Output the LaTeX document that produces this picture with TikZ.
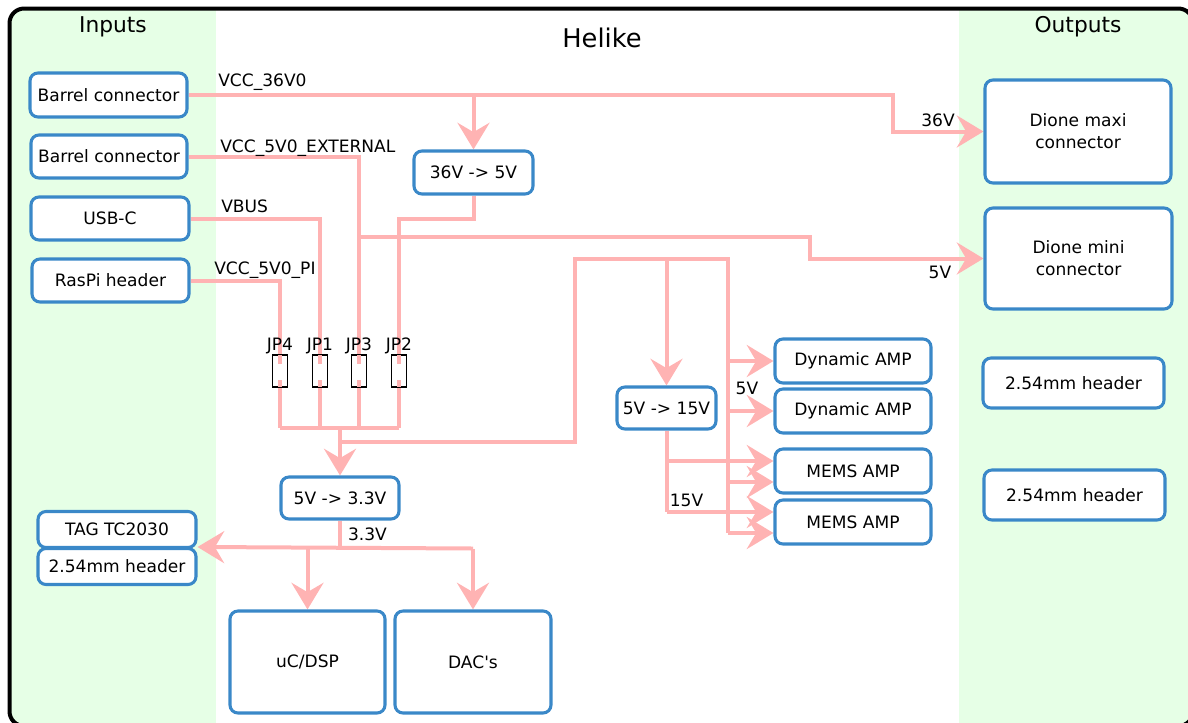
\documentclass[tikz,border=0pt]{standalone}
\usepackage{fontspec}
\setmainfont{DejaVu Sans}
\usetikzlibrary{arrows.meta,calc}
\definecolor{boxblue}{RGB}{58,136,200}
\definecolor{wirepink}{RGB}{255,179,179}
\definecolor{panelgreen}{RGB}{230,255,230}
\pgfdeclarelayer{back}
\pgfdeclarelayer{wires}
\pgfsetlayers{back,wires,main}

\begin{document}
\begin{tikzpicture}[x=0.75pt,y=-0.75pt,
  block/.style={draw=boxblue, line width=2.3pt, rounded corners=6pt, fill=white,
    align=center, inner sep=0pt, font=\fontsize{12.8}{16.5}\selectfont},
  sz/.style 2 args={minimum width=#1*0.75pt, minimum height=#2*0.75pt},
  wire/.style={draw=wirepink, line width=3pt},
  feed/.style={-{Stealth[length=20pt,width=24pt,inset=7pt]}},
  lbl/.style={font=\fontsize{12.8}{15}\selectfont, inner sep=0pt},
  jumper/.style={draw=black, line width=1.1pt, fill=white, inner sep=0pt,
    minimum width=15*0.75pt, minimum height=32*0.75pt},
  heading/.style={font=\fontsize{16.3}{18}\selectfont, inner sep=0pt, anchor=base}
]
\useasboundingbox (0,0) rectangle (1188,722);

% frame and side panels (the frame runs past the right and bottom edges)
\begin{pgfonlayer}{back}
  \begin{scope}[overlay]
    \clip[rounded corners=11pt] (9.5,8.5) rectangle (1193,726);
    \fill[panelgreen] (9,8) rectangle (216,727);
    \fill[panelgreen] (959,8) rectangle (1194,727);
  \end{scope}
  \draw[overlay, line width=3pt, rounded corners=11pt] (9.5,8.5) rectangle (1193,726);
\end{pgfonlayer}

% headings
\node[heading] (tInputs) at (113,32.5) {Inputs};
\node[heading] (tOutputs) at (1078,32) {Outputs};
\node[font=\fontsize{19.3}{22}\selectfont, inner sep=0pt, anchor=base] (tTitle) at (602,47) {Helike};

% inputs
\node[block, sz={157}{44}] (bc1) at (108.5,95) {Barrel connector};
\node[block, sz={156}{43}] (bc2) at (109,156.5) {Barrel connector};
\node[block, sz={158}{43}] (usbc) at (110,218.5) {USB-C};
\node[block, sz={157}{43}] (raspi) at (110.5,280.5) {RasPi header};
\node[block, sz={158}{36}] (tag) at (117,529.5) {TAG TC2030};
\node[block, sz={158}{36}] (hdrL) at (117,566.5) {2.54mm header};

% converters
\node[block, sz={119}{43}] (conv36) at (473.5,172.5) {36V -> 5V};
\node[block, sz={118}{42}] (conv33) at (340,498) {5V -> 3.3V};
\node[block, sz={99}{42}] (conv15) at (666.5,408) {5V -> 15V};

% loads
\node[block, sz={155}{102}] (ucdsp) at (307.5,662) {uC/DSP};
\node[block, sz={156}{102}] (dacs) at (473,662) {DAC\textquotesingle s};
\node[block, sz={156}{44}] (dyn1) at (853,361) {Dynamic AMP};
\node[block, sz={156}{44}] (dyn2) at (853,411) {Dynamic AMP};
\node[block, sz={156}{44}] (mems1) at (853,471) {MEMS AMP};
\node[block, sz={156}{44}] (mems2) at (853,522) {MEMS AMP};

% outputs
\node[block, sz={186}{103}] (maxi) at (1078,131.5) {Dione maxi\\connector};
\node[block, sz={187}{101}] (mini) at (1078.5,258.5) {Dione mini\\connector};
\node[block, sz={181}{50}] (hdrR1) at (1073.5,383) {2.54mm header};
\node[block, sz={181}{50}] (hdrR2) at (1074.5,495) {2.54mm header};

% jumpers
\foreach \n/\x in {jp4/280, jp1/320, jp3/359, jp2/399} {
  \node[jumper] (\n) at (\x,371) {};
  \node[lbl, anchor=base] (\n lbl) at (\x,350.5) {\MakeUppercase{\n}};
  \draw[wire] ([yshift=-0.9pt]\n.north) -- ++(0,9);
  \draw[wire] ([yshift=0.9pt]\n.south) -- ++(0,-7);
}

% junction points
\coordinate (j36) at (473.5,95);
\coordinate (k36) at (893,95);
\coordinate (bar) at (280,428);
\coordinate (jmid) at (340,428);
\coordinate (jtap) at (340,442);
\coordinate (busA) at (575,442);
\coordinate (busB) at (575,259);
\coordinate (bus5) at (728,259);
\coordinate (bus5end) at (728,533);
\coordinate (j5ext) at (359,237);
\coordinate (k5ext) at (810,237);
\coordinate (b15) at (666.5,512);
\coordinate (rail33) at (340,548.5);
\coordinate (rail33R) at (473,548.5);
\coordinate (m1v15) at ($(mems1.west)+(0,-10)$);
\coordinate (m1v5) at ($(mems1.west)+(0,11)$);
\coordinate (m2v15) at ($(mems2.west)+(0,-10)$);
\coordinate (m2v5) at ($(mems2.west)+(0,11)$);

% power rails
\begin{pgfonlayer}{wires}
  \draw[wire, feed] (bc1.east) -- (k36) |- (maxi.west);
  \draw[wire, feed] (j36) -- (conv36.north);
  \draw[wire] (bc2.east) -| (jp3 |- bar);
  \draw[wire] (usbc.east) -| (jp1 |- bar);
  \draw[wire] (raspi.east) -| (jp4 |- bar);
  \draw[wire] (conv36.south) -- ++(0,23) -| (jp2 |- bar);
  \draw[wire] (jp4 |- bar) -- (jp2 |- bar);
  \draw[wire, feed] (jmid) -- (conv33.north);
  \draw[wire, feed] (j5ext) -- (k5ext) |- (mini.west);
  \draw[wire] (jmid) -- (jtap) -- (busA) -- (busB) -- (bus5) -- (bus5end);
  \draw[wire, feed] (conv15.north |- bus5) -- (conv15.north);
  \draw[wire, feed] (bus5 |- dyn1.west) -- (dyn1.west);
  \draw[wire, feed] (bus5 |- dyn2.west) -- (dyn2.west);
  \draw[wire, feed] (bus5 |- m1v5) -- (m1v5);
  \draw[wire, feed] (bus5 |- m2v5) -- (m2v5);
  \draw[wire] (conv15.south) -- (b15);
  \draw[wire, feed] (conv15.south |- m1v15) -- (m1v15);
  \draw[wire, feed] (b15) -- (m2v15);
  \draw[wire] (conv33.south) -- (rail33);
  \draw[wire, feed] (rail33R) -- (hdrL.north east);
  \draw[wire, feed] (ucdsp.north |- rail33) -- (ucdsp.north);
  \draw[wire, feed] (rail33R) -- (dacs.north);
\end{pgfonlayer}

% rail labels
\node[lbl, anchor=base west] (l36) at (218,86) {VCC\_36V0};
\node[lbl, anchor=base west] (l5e) at (220,152) {VCC\_5V0\_EXTERNAL};
\node[lbl, anchor=base west] (lvb) at (221,212.7) {VBUS};
\node[lbl, anchor=base west] (lpi) at (214,274) {VCC\_5V0\_PI};
\node[lbl, anchor=base] (o36) at (938,126) {36V};
\node[lbl, anchor=base] (o5) at (940,278) {5V};
\node[lbl, anchor=base] (a5) at (747,394) {5V};
\node[lbl, anchor=base] (a15) at (686.5,506) {15V};
\node[lbl, anchor=base] (a33) at (367.5,540.7) {3.3V};
\end{tikzpicture}
\end{document}
